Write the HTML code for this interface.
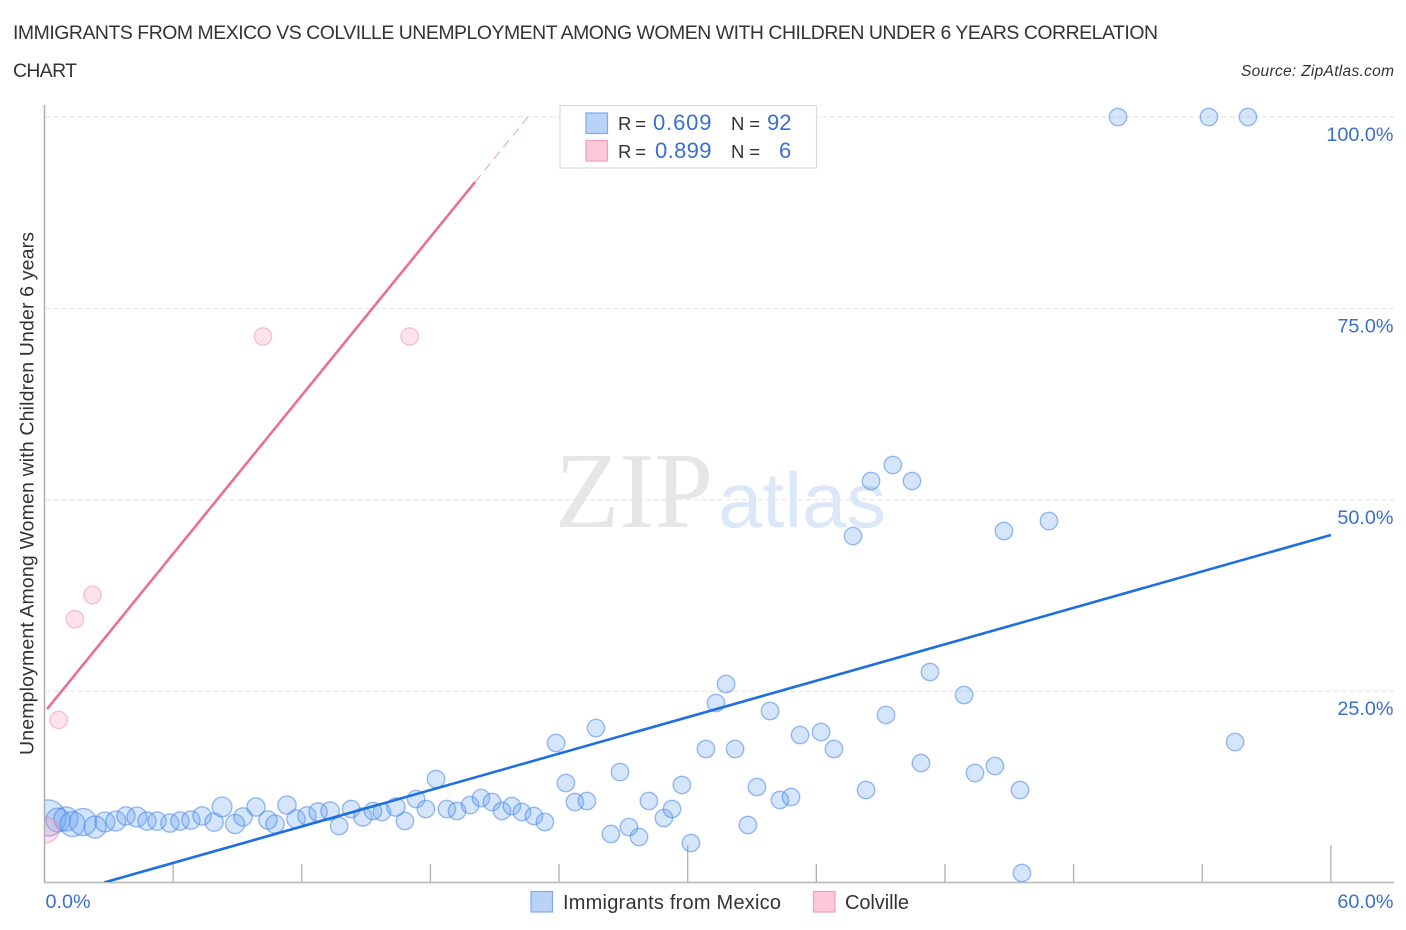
<!DOCTYPE html>
<html lang="en">
<head>
<meta charset="utf-8">
<title>Immigrants from Mexico vs Colville Unemployment Correlation Chart</title>
<style>
html,body{margin:0;padding:0;background:#fff;}
svg{display:block;font-family:"Liberation Sans",sans-serif;}
</style>
</head>
<body>
<svg id="chart" width="1406" height="930" viewBox="0 0 1406 930" xmlns="http://www.w3.org/2000/svg">
  <defs>
    <clipPath id="plot-clip"><rect x="45" y="100" width="1350" height="782"/></clipPath>
  </defs>
  <text x="13" y="39" font-size="19.4" fill="#333" textLength="1145" lengthAdjust="spacing">IMMIGRANTS FROM MEXICO VS COLVILLE UNEMPLOYMENT AMONG WOMEN WITH CHILDREN UNDER 6 YEARS CORRELATION</text>
  <text x="13" y="77" font-size="19.4" fill="#333" textLength="64" lengthAdjust="spacing">CHART</text>
  <text x="1241" y="76" font-size="15.5" font-style="italic" fill="#333" textLength="153" lengthAdjust="spacing">Source: ZipAtlas.com</text>

  <text x="555" y="527" font-family="'Liberation Serif',serif" font-size="108" fill="#e6e6e6" textLength="158" lengthAdjust="spacingAndGlyphs">ZIP</text>
  <text x="718" y="527" font-size="78" fill="#dce8f8" textLength="168" lengthAdjust="spacingAndGlyphs">atlas</text>

  <g id="grid"></g>
  <g id="axes"></g>
  <g id="points" clip-path="url(#plot-clip)"></g>
  <g id="trends" clip-path="url(#plot-clip)"></g>
  <g id="tick-labels"></g>

  <text transform="translate(33.5,755) rotate(-90)" font-size="19.5" fill="#333" textLength="523" lengthAdjust="spacing">Unemployment Among Women with Children Under 6 years</text>

  <g>
    <rect x="560" y="105.500" width="256.500" height="62.500" fill="#fff" stroke="#dcdcdc" stroke-width="1.200"/>
    <rect x="586" y="113" width="21.500" height="20.500" fill="#b9d3f7" stroke="#7fabea" stroke-width="1.200"/>
    <rect x="586" y="140.500" width="21.500" height="20.500" fill="#ffc8d8" stroke="#f0a0ba" stroke-width="1.200"/>
    <g font-size="18.500">
      <text x="618" y="130" fill="#333" textLength="28" lengthAdjust="spacing">R =</text>
      <text x="653" y="130" font-size="22" fill="#3a6fd0" textLength="58.500" lengthAdjust="spacing">0.609</text>
      <text x="731" y="130" fill="#333" textLength="29" lengthAdjust="spacing">N =</text>
      <text x="767" y="130" font-size="22" fill="#3a6fd0" textLength="24.500" lengthAdjust="spacing">92</text>
      <text x="618" y="158" fill="#333" textLength="28" lengthAdjust="spacing">R =</text>
      <text x="655" y="158" font-size="22" fill="#3a6fd0" textLength="56.500" lengthAdjust="spacing">0.899</text>
      <text x="731" y="158" fill="#333" textLength="29" lengthAdjust="spacing">N =</text>
      <text x="779" y="158" font-size="22" fill="#3a6fd0" textLength="12" lengthAdjust="spacing">6</text>
    </g>
  </g>

  <g>
    <rect x="531" y="891.500" width="21.500" height="20.500" fill="#b9d3f7" stroke="#7fabea" stroke-width="1.200"/>
    <text x="563" y="909" font-size="20" fill="#333" textLength="218" lengthAdjust="spacing">Immigrants from Mexico</text>
    <rect x="813.500" y="891.500" width="21.500" height="20.500" fill="#ffc8d8" stroke="#f0a0ba" stroke-width="1.200"/>
    <text x="845" y="909" font-size="20" fill="#333" textLength="64" lengthAdjust="spacing">Colville</text>
  </g>
</svg>
<script>
// Chart data (percent units)
const mexicoX = [0.16,0.63,1.00,1.31,1.80,2.36,2.82,3.33,3.80,4.31,4.78,5.25,5.85,6.32,6.83,7.35,7.91,8.28,8.89,9.26,9.86,10.42,10.75,11.31,11.73,12.24,12.76,13.32,13.74,14.30,14.85,15.32,15.74,16.39,16.81,17.33,17.79,18.26,18.77,19.24,19.85,20.36,20.87,21.34,21.80,22.27,22.83,23.34,23.86,24.32,24.74,25.30,25.72,26.42,26.84,27.26,27.73,28.19,28.89,29.27,29.73,30.15,30.85,31.32,31.79,32.21,32.81,33.23,33.84,34.30,34.82,35.24,36.22,36.82,38.32,39.25,40.88,42.89,43.40,44.33,45.50,55.53,45.59,41.30,37.71,38.55,39.57,40.46,44.75,46.85,50.07,54.31,56.13];
const mexicoY = [8.43,8.16,8.30,7.64,7.90,7.25,7.90,8.03,8.69,8.56,8.03,8.03,7.77,8.03,8.16,8.69,7.90,9.86,7.64,8.56,9.86,8.16,7.64,10.12,8.30,8.69,9.21,9.34,7.38,9.60,8.56,9.34,9.21,9.86,8.03,10.91,9.60,13.52,9.60,9.34,10.12,11.04,10.52,9.34,9.99,9.21,8.69,7.90,18.22,13.00,10.52,10.65,20.18,6.34,14.43,7.25,5.94,10.65,8.43,9.60,12.74,5.16,17.44,23.45,25.93,17.44,7.51,12.48,22.40,10.78,11.17,19.27,19.66,17.44,12.08,21.88,15.61,24.49,14.30,15.22,12.08,18.35,1.24,27.50,45.26,52.45,54.54,52.45,45.92,47.22,100,100,100];
const mexicoWeight = [4.3,1.9,1.9,2.06,2.4,1.6,1.3,1.3,1.1,1.3,1.1,1.1,1.1,1.1,1.1,1.1,1.1,1.3,1.2,1.1,1.1,1.1,1.1,1.1,1.1,1.1,1.1,1.1,1,1,1.1,1,1,1.1,1,1,1,1,1,1,1,1,1,1,1,1,1,1,1,1,1,1,1,1,1,1,1,1,1,1,1,1,1,1,1,1,1,1,1,1,1,1,1,1,1,1,1,1,1,1,1,1,1,1,1,1,1,1,1,1,1,1,1];
const colvilleX = [0.06,0.66,1.42,2.24,10.19,17.03];
const colvilleY = [6.87,21.24,34.40,37.55,71.33,71.33];
const colvilleWeight = [2.2,1,1,1,1,1];
const mexicoTrendX = [2.78,60];
const mexicoTrendY = [0,45.4];
const colvilleTrendX = [0.12,20.08];
const colvilleTrendY = [22.66,91.5];
const colvilleTrendExtX = [20.08,22.55];
const colvilleTrendExtY = [91.5,100];
const xTickValues = [6,12,18,24,30,36,42,48,54,60];
const xLongTicks = [30,60];
const yTickValues = [25,50,75,100];
const yTickLabels = ['25.0%','50.0%','75.0%','100.0%'];
const xTickLabelValues = [0,60];
const xTickLabels = ['0.0%','60.0%'];

const NS = 'http://www.w3.org/2000/svg';
const xAt = v => 44.5 + v * 21.44;
const yAt = v => 882.5 - v * 7.655;
const rAt = w => 8.7 * Math.sqrt(w);
const mk = (tag, parent) => { const el = document.createElementNS(NS, tag); parent.appendChild(el); return el; };
const set = (el, obj) => { for (const k in obj) el.setAttribute(k, obj[k]); return el; };

const grid = document.getElementById('grid');
yTickValues.forEach(v => {
  const el = set(mk('line', grid), {x1: 46, x2: 1394, y1: yAt(v), y2: yAt(v), stroke: '#e2e2e2', 'stroke-width': 1, 'stroke-dasharray': '5 3'});
  
  
});

const axes = document.getElementById('axes');
const yAxisLine = set(mk('line', axes), {x1: 44.5, x2: 44.5, y1: 105, y2: 883, stroke: '#adadad', 'stroke-width': 1.5});


const xAxisLine = set(mk('line', axes), {x1: 44, x2: 1394, y1: 882.5, y2: 882.5, stroke: '#bdbdbd', 'stroke-width': 1.8});


xTickValues.forEach(v => {
  const top = xLongTicks.includes(v) ? 845 : 864;
  const el = set(mk('line', axes), {x1: xAt(v), x2: xAt(v), y1: top, y2: 882, stroke: '#b0b0b0', 'stroke-width': 1.3});
  
  
});

const points = document.getElementById('points');
mexicoX.forEach((v, i) => {
  const el = set(mk('circle', points), {cx: xAt(v), cy: yAt(mexicoY[i]), r: rAt(mexicoWeight[i]), fill: 'rgba(100,160,240,0.27)', stroke: 'rgba(70,135,230,0.55)', 'stroke-width': 1.4});
  
  
});
colvilleX.forEach((v, i) => {
  const el = set(mk('circle', points), {cx: xAt(v), cy: yAt(colvilleY[i]), r: rAt(colvilleWeight[i]), fill: 'rgba(255,160,190,0.3)', stroke: 'rgba(235,130,165,0.45)', 'stroke-width': 1.4});
  
  
});

const trends = document.getElementById('trends');
const trendBlue = set(mk('line', trends), {x1: xAt(mexicoTrendX[0]), y1: yAt(mexicoTrendY[0]), x2: xAt(mexicoTrendX[1]), y2: yAt(mexicoTrendY[1]), stroke: '#1f6fdc', 'stroke-width': 2.6});


const trendPink = set(mk('line', trends), {x1: xAt(colvilleTrendX[0]), y1: yAt(colvilleTrendY[0]), x2: xAt(colvilleTrendX[1]), y2: yAt(colvilleTrendY[1]), stroke: '#e96f9b', 'stroke-width': 2.6});


const trendPinkExt = set(mk('line', trends), {x1: xAt(colvilleTrendExtX[0]), y1: yAt(colvilleTrendExtY[0]), x2: xAt(colvilleTrendExtX[1]), y2: yAt(colvilleTrendExtY[1]), stroke: '#efa0bb', 'stroke-width': 1, 'stroke-dasharray': '9 6'});



const tickLabels = document.getElementById('tick-labels');
yTickValues.forEach((v, i) => {
  const el = set(mk('text', tickLabels), {x: 1393.5, y: yAt(v) + 24, 'text-anchor': 'end', 'font-size': 19.8, fill: '#3a6fd0'});
  el.textContent = yTickLabels[i];
  
  
});
xTickLabelValues.forEach((v, i) => {
  const attrs = i === 0 ? {x: xAt(v) + 1, 'text-anchor': 'start'} : {x: 1393.5, 'text-anchor': 'end'};
  const el = set(mk('text', tickLabels), Object.assign(attrs, {y: 908, 'font-size': 19.8, fill: '#3a6fd0'}));
  el.textContent = xTickLabels[i];
  
  
});
</script>
</body>
</html>
